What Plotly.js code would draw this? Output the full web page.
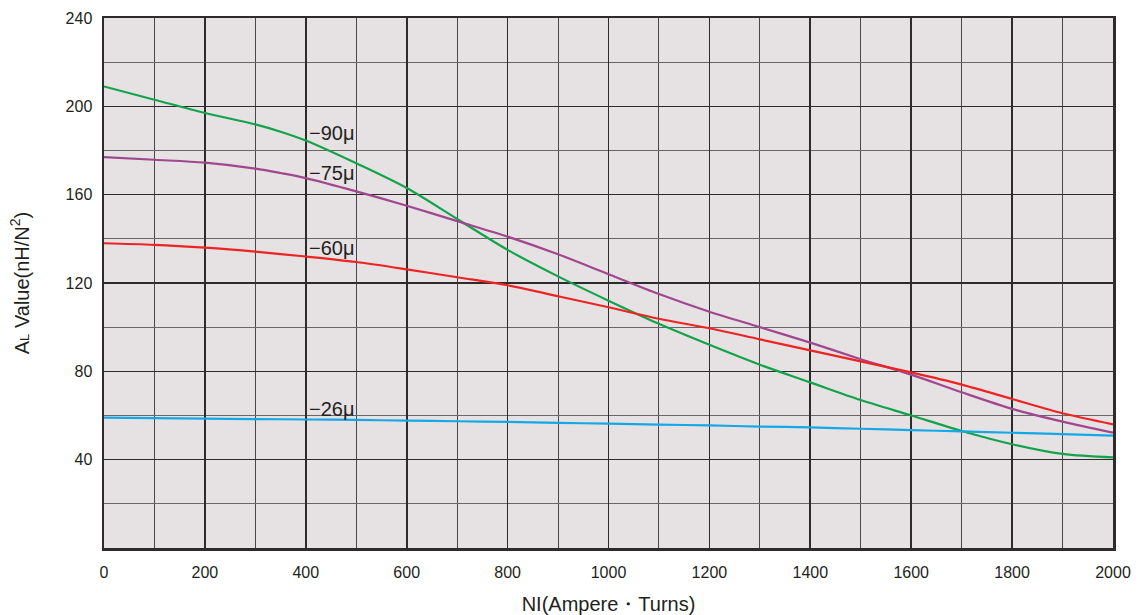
<!DOCTYPE html>
<html><head><meta charset="utf-8">
<script src="https://cdn.plot.ly/plotly-3.0.1.min.js"></script>
<style>html,body{margin:0;padding:0;background:#fff}#chart{width:1140px;height:615px}</style>
</head><body><div id="chart"></div>
<script>
const ni = [0,100,200,300,350,400,500,600,700,800,900,1000,1100,1200,1300,1400,1500,1600,1700,1800,1900,2000];
const mu90 = [209,203,197,191.8,188.5,184.5,174.2,163,149,135,123,112,101.5,92,83,75,67,60,53,47,42.6,41];
const mu75 = [177,175.8,174.5,171.8,169.8,167.5,161.5,155,148,141,133,124,115,107,100,93,85.5,78.5,70.5,63,57.2,52.2];
const mu60 = [138,137.3,136,134.2,133.1,132,129.5,126.2,122.6,119,114,109,103.8,99.5,94.5,89.5,84.5,79.5,74,67.5,61,56];
const mu26 = [59,58.8,58.6,58.4,58.3,58.2,58,57.7,57.4,57.1,56.7,56.3,55.9,55.5,55,54.6,54,53.4,52.8,52.2,51.6,50.9];
const seriesLabels = ['−90μ','−75μ','−60μ','−26μ'];
const labelPos = [[400,188],[400,170],[400,136],[400,63]];
const colors = ['#13a34a','#a0478f','#ee2424','#14a9e6'];
const seriesData = [mu90, mu75, mu60, mu26];

const traces = seriesData.map((ys,i)=>({
  x: ni, y: ys, type:'scatter', mode:'lines',
  line:{color:colors[i], width:2.2, shape:'spline', smoothing:0.9},
  hoverinfo:'skip', showlegend:false
}));

const fam = '"Liberation Sans", Arial, sans-serif';
const layout = {
  width:1140, height:615,
  margin:{l:104, r:27, t:18, b:67},
  paper_bgcolor:'#ffffff', plot_bgcolor:'#e6e1e3',
  font: {family:fam, color:'#231f20'},
  xaxis:{range:[0,2000], tickvals:[0,200,400,600,800,1000,1200,1400,1600,1800,2000],
    showgrid:true, gridcolor:'#2e2b2c', gridwidth:1.6,
    minor:{tickvals:[100,300,500,700,900,1100,1300,1500,1700,1900], showgrid:true, gridcolor:'#4a4648', gridwidth:1},
    showline:true, linecolor:'#2e2b2c', linewidth:2.5, mirror:true,
    ticks:'', tickfont:{size:16, color:'#231f20'}, zeroline:false, ticklabelstandoff:8,
    title:{text:'NI(Ampere・Turns)', font:{size:20, color:'#231f20'}, standoff:18}},
  yaxis:{range:[0,240], tickvals:[40,80,120,160,200,240],
    showgrid:true, gridcolor:'#2e2b2c', gridwidth:1.6,
    minor:{tickvals:[20,60,100,140,180,220], showgrid:true, gridcolor:'#6a6668', gridwidth:1},
    showline:true, linecolor:'#2e2b2c', linewidth:2.5, mirror:true,
    ticks:'', tickfont:{size:16, color:'#231f20'}, zeroline:false, ticklabelstandoff:6,
    title:{text:"A<span style='font-size:13px'>L</span> Value(nH/N<sup>2</sup>)", font:{size:20, color:'#231f20'}, standoff:31}},
  annotations: seriesLabels.map((t,i)=>({
    x:labelPos[i][0], y:labelPos[i][1], text:t, showarrow:false,
    xanchor:'left', yanchor:'middle', xshift:1,
    font:{size:20, color:'#231f20', family:fam}
  }))
};
Plotly.newPlot('chart', traces, layout, {staticPlot:true, displayModeBar:false});
</script></body></html>
